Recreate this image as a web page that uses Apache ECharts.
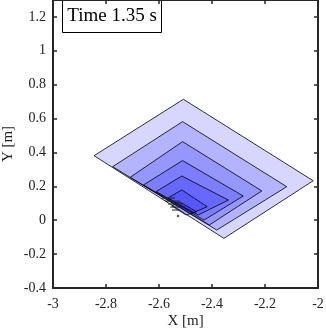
<!DOCTYPE html>
<html><head><meta charset="utf-8">
<script src="https://cdn.jsdelivr.net/npm/echarts@6/dist/echarts.min.js"></script>
<style>html,body{margin:0;padding:0;background:#fff}#c{width:326px;height:332px}</style>
</head><body><div id="c"></div>
<script>
// axis ranges / ticks
const xRange = [-3, -2];
const yRange = [-0.4, 1.3];
const xStep = 0.2;
const yStep = 0.2;
const timeLabel = 'Time 1.35 s';

// nested quadrilaterals (vertices: left, top, right, bottom)
const shell1 = [[-2.845, 0.381], [-2.508, 0.714], [-2.018, 0.233], [-2.355, -0.107]];
const shell2 = [[-2.775, 0.316], [-2.511, 0.582], [-2.118, 0.198], [-2.382, -0.058]];
const shell3 = [[-2.709, 0.253], [-2.511, 0.464], [-2.212, 0.173], [-2.410, -0.028]];
const shell4 = [[-2.659, 0.208], [-2.511, 0.352], [-2.282, 0.143], [-2.430, 0.001]];
const shell5 = [[-2.611, 0.169], [-2.514, 0.261], [-2.338, 0.119], [-2.452, 0.031]];
const shell6 = [[-2.566, 0.131], [-2.514, 0.179], [-2.418, 0.080], [-2.472, 0.043]];
const shell7 = [[-2.551, 0.084], [-2.523, 0.109], [-2.458, 0.050], [-2.498, 0.031]];
const shells = [shell1, shell2, shell3, shell4, shell5, shell6, shell7];

// small quiver marks: [x1, y1, x2, y2]
const quiver = [
  [-2.589, 0.131, -2.540, 0.131],
  [-2.577, 0.113, -2.521, 0.113],
  [-2.566, 0.096, -2.509, 0.096],
  [-2.558, 0.078, -2.502, 0.078],
  [-2.551, 0.060, -2.521, 0.060]
];
const dots = [[-2.528, 0.025]];

const font = 'Liberation Serif';
const axisCol = '#262626';

const chart = echarts.init(document.getElementById('c'), null, {renderer: 'canvas'});

const shellSeries = shells.map(function (pts) {
  return {
    type: 'custom',
    coordinateSystem: 'cartesian2d',
    xAxisIndex: 0, yAxisIndex: 0,
    data: [0],
    silent: true,
    renderItem: function (params, api) {
      const points = pts.map(function (p) { return api.coord(p); });
      return {
        type: 'polygon',
        shape: {points: points},
        style: {fill: 'rgba(0,0,255,0.16)', stroke: '#000', lineWidth: 0.8}
      };
    }
  };
});

const quiverSeries = {
  type: 'custom',
  coordinateSystem: 'cartesian2d',
  xAxisIndex: 0, yAxisIndex: 0,
  data: quiver,
  silent: true,
  renderItem: function (params, api) {
    const a = api.coord([api.value(0), api.value(1)]);
    const b = api.coord([api.value(2), api.value(3)]);
    return {
      type: 'line',
      shape: {x1: a[0], y1: a[1], x2: b[0], y2: b[1]},
      style: {stroke: '#222', lineWidth: 1}
    };
  }
};

const dotSeries = {
  type: 'scatter',
  xAxisIndex: 0, yAxisIndex: 0,
  data: dots,
  symbolSize: 2.5,
  itemStyle: {color: '#222'},
  silent: true
};

function xAx(pos, show) {
  return {
    type: 'value', position: pos, min: xRange[0], max: xRange[1], interval: xStep,
    axisLine: {show: true, onZero: false, lineStyle: {color: axisCol, width: 2}},
    axisTick: {show: true, inside: true, length: 4, lineStyle: {color: axisCol, width: 1.5}},
    axisLabel: {show: show, color: '#222', fontFamily: font, fontSize: 14, margin: 9},
    splitLine: {show: false},
    name: show ? 'X [m]' : '', nameLocation: 'middle', nameGap: 26, nameMoveOverlap: false,
    nameTextStyle: {color: '#222', fontFamily: font, fontSize: 15}
  };
}
function yAx(pos, show) {
  return {
    type: 'value', position: pos, min: yRange[0], max: yRange[1], interval: yStep,
    axisLine: {show: true, onZero: false, lineStyle: {color: axisCol, width: 2}},
    axisTick: {show: true, inside: true, length: 4, lineStyle: {color: axisCol, width: 1.5}},
    axisLabel: {show: show, color: '#222', fontFamily: font, fontSize: 14, margin: 7, showMaxLabel: false},
    splitLine: {show: false},
    name: show ? 'Y [m]' : '', nameLocation: 'middle', nameGap: 37, nameRotate: 90, nameMoveOverlap: false,
    nameTextStyle: {color: '#222', fontFamily: font, fontSize: 15}
  };
}

chart.setOption({
  animation: false,
  backgroundColor: '#fff',
  grid: {left: 53, right: 8, top: 0, bottom: 44, containLabel: false, outerBoundsMode: 'none'},
  xAxis: [xAx('bottom', true), xAx('top', false)],
  yAxis: [yAx('left', true), yAx('right', false)],
  series: shellSeries.concat([quiverSeries, dotSeries]),
  graphic: [{
    type: 'group', left: 62, top: 0, z: 100,
    children: [
      {type: 'rect', shape: {x: 0, y: 0, width: 99, height: 32},
       style: {fill: '#fff', stroke: '#000', lineWidth: 1}},
      {type: 'text', x: 49.5, y: 16,
       style: {text: timeLabel, fill: '#000', font: '19px "Liberation Serif"',
               textAlign: 'center', textVerticalAlign: 'middle'}}
    ]
  }]
});
</script></body></html>
